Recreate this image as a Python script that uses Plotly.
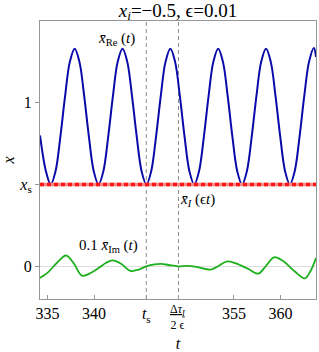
import plotly.graph_objects as go

# ---------------- data ----------------
t_re = [334.20, 334.84,
        335.35, 335.86, 336.38, 336.89, 337.40, 337.92, 338.43, 338.94, 339.45, 339.97,
        340.48, 340.99, 341.51, 342.02, 342.53, 343.05, 343.56, 344.07, 344.58, 345.10,
        345.61, 346.12, 346.64, 347.15, 347.66, 348.18, 348.69, 349.20, 349.71, 350.23,
        350.74, 351.25, 351.77, 352.28, 352.79, 353.31, 353.82, 354.33, 354.84, 355.36,
        355.87, 356.38, 356.90, 357.41, 357.92, 358.44, 358.95, 359.46, 359.97, 360.49,
        361.00, 361.51, 362.03, 362.54, 363.05, 363.57, 363.80]
x_re = [0.80, 0.58,
        0.50, 0.58, 0.79, 1.04, 1.25, 1.33, 1.25, 1.04, 0.79, 0.58,
        0.50, 0.58, 0.79, 1.04, 1.25, 1.33, 1.25, 1.04, 0.79, 0.58,
        0.50, 0.58, 0.79, 1.04, 1.25, 1.33, 1.25, 1.04, 0.79, 0.58,
        0.50, 0.58, 0.79, 1.04, 1.25, 1.33, 1.25, 1.04, 0.79, 0.58,
        0.50, 0.58, 0.79, 1.04, 1.25, 1.33, 1.25, 1.04, 0.79, 0.58,
        0.50, 0.58, 0.79, 1.04, 1.25, 1.335, 1.28]

t_im = [334.2, 335.0, 336.0, 337.0, 337.8, 338.7, 339.5, 340.5, 341.3, 342.0, 342.9,
        343.9, 344.8, 345.6, 346.5, 347.2, 348.0, 349.0, 350.0, 351.0, 352.5, 353.3,
        354.2, 355.2, 356.5, 357.6, 358.4, 359.3, 360.2, 361.5, 362.6, 363.2, 363.8]
x_im_scaled = [-0.071, -0.04, 0.02, 0.066, 0.02, -0.057, -0.045, -0.01, 0.022, 0.036, 0.015,
               -0.028, -0.02, 0.0, 0.012, 0.015, 0.008, 0.0, 0.003, -0.004, -0.02, 0.0,
               0.029, 0.018, -0.015, -0.045, 0.0, 0.055, 0.035, -0.03, -0.074, -0.03, 0.05]

t_I = [334.2, 349.0, 363.8]
x_I = [0.5, 0.5, 0.5]

x_s = 0.5
t_s = 345.6
t_delta = 349.05

x_tick_vals = [335, 340, t_s, t_delta, 355, 360]
x_tick_text = ["335", "340", "<i>t</i><sub>s</sub>", " ", "355", "360"]
frac_label = "<u>Δ<i>τ</i><sub><i>I</i></sub></u><br>2 ϵ"
y_tick_vals = [0, x_s, 1]
y_tick_text = ["0", "<i>x</i><sub>s</sub>", "1"]

t_range = [334.2, 363.8]
y_range = [-0.2, 1.5]

FONT = "Liberation Serif, Times New Roman, serif"

fig = go.Figure()
fig.add_trace(go.Scatter(x=t_re, y=x_re, mode="lines", line=dict(color="rgb(10,10,170)", width=2, shape="spline"),
                         showlegend=False, hoverinfo="skip"))
fig.add_trace(go.Scatter(x=t_im, y=x_im_scaled, mode="lines", line=dict(color="rgb(30,175,30)", width=1.8, shape="spline"),
                         showlegend=False, hoverinfo="skip"))
fig.add_trace(go.Scatter(x=t_I, y=x_I, mode="lines", line=dict(color="rgb(240,140,140)", width=3.5),
                         showlegend=False, hoverinfo="skip"))
fig.add_trace(go.Scatter(x=t_I, y=x_I, mode="lines", line=dict(color="rgb(255,20,20)", width=3.5, dash="4px,3px"),
                         showlegend=False, hoverinfo="skip"))

for tv in (t_s, t_delta):
    fig.add_shape(type="line", xref="x", yref="paper", x0=tv, x1=tv, y0=0, y1=1,
                  line=dict(color="rgb(140,140,140)", width=1, dash="4px,3px"), layer="below")

fig.add_annotation(x=344.6, y=1.39, xref="x", yref="y", xanchor="right", yanchor="middle",
                   text="<i>x\u0304</i><sub>Re</sub> (<i>t</i>)", showarrow=False,
                   font=dict(family=FONT, size=15, color="black"))
fig.add_annotation(x=349.0, y=0.405, xref="x", yref="y", xanchor="left", yanchor="middle",
                   text="<i>x\u0304</i><sub><i>I</i></sub> (ϵ<i>t</i>)", showarrow=False,
                   font=dict(family=FONT, size=15, color="black"))
fig.add_annotation(x=344.9, y=0.122, xref="x", yref="y", xanchor="right", yanchor="middle",
                   text="0.1 <i>x\u0304</i><sub>Im</sub> (<i>t</i>)", showarrow=False,
                   font=dict(family=FONT, size=15, color="black"))
fig.add_annotation(x=t_delta, y=-0.005, xref="x", yref="paper", xanchor="center", yanchor="top",
                   text=frac_label, showarrow=False, align="center",
                   font=dict(family=FONT, size=12, color="black"))

fig.update_layout(
    width=319, height=352,
    margin=dict(l=40, r=3, t=21, b=53),
    paper_bgcolor="white", plot_bgcolor="white",
    font=dict(family=FONT, size=16, color="black"),
    title=dict(text="<i>x</i><sub><i>i</i></sub>=−0.5, ϵ=0.01", x=0.558, xanchor="center",
               y=0.972, yanchor="middle", font=dict(family=FONT, size=19)),
    xaxis=dict(range=t_range, tickvals=x_tick_vals, ticktext=x_tick_text, automargin=False,
               showgrid=False, zeroline=False, showline=True, mirror=True,
               linecolor="rgb(150,150,150)", linewidth=1, ticks="inside", ticklen=4,
               tickcolor="rgb(150,150,150)", tickfont=dict(family=FONT, size=16),
               title=dict(text="<i>t</i>", standoff=22, font=dict(family=FONT, size=16))),
    yaxis=dict(range=y_range, tickvals=y_tick_vals, ticktext=y_tick_text, automargin=False,
               showgrid=False, zeroline=True, zerolinecolor="rgb(220,220,220)", zerolinewidth=1,
               showline=True, mirror=True,
               linecolor="rgb(150,150,150)", linewidth=1, ticks="outside", ticklen=4,
               tickcolor="rgb(150,150,150)", tickfont=dict(family=FONT, size=16),
               title=dict(text="<i>x</i>", standoff=12, font=dict(family=FONT, size=16))),
)

fig.write_html("out.html", config={"displayModeBar": False},
               post_script="document.body.style.margin='0';document.body.style.padding='0';")
